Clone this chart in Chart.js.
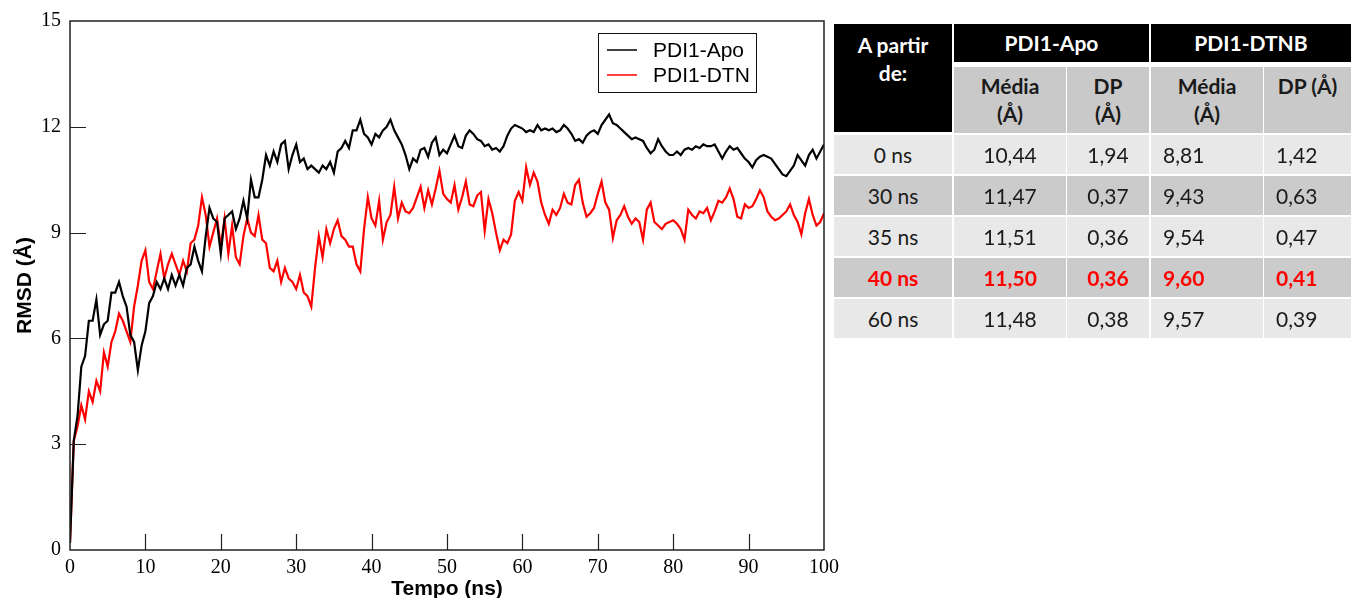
<!DOCTYPE html>
<html lang="pt">
<head>
    <meta charset="UTF-8">
    <title>RMSD PDI1</title>
    <script src="https://cdn.jsdelivr.net/npm/chart.js"></script>
    <style>
        body {
            margin: 0;
            padding: 0;
            background: white;
            width: 1351px;
            height: 598px;
            overflow: hidden;
            position: relative;
        }
        #chartBox {
            position: absolute;
            left: 0;
            top: 0;
            width: 845px;
            height: 598px;
        }
        .cell {
            position: absolute;
            box-sizing: border-box;
            display: flex;
            align-items: center;
            justify-content: center;
            font-family: Lato, "Open Sans", sans-serif;
            font-size: 21px;
            color: #1a1a1a;
            line-height: 28px;
            text-align: center;
        }
        .head { background: #000; color: #fff; font-weight: bold; }
        .corner { align-items: flex-start; padding-top: 7px; }
        .sub { background: #c9c9c9; font-weight: bold; align-items: flex-start; padding-top: 5px; }
        .light { background: #e8e8e8; }
        .dark { background: #cbcbcb; }
        .left { justify-content: flex-start; padding-left: 12px; }
        .hl { color: #ff0000; font-weight: bold; }
    </style>
</head>
<body>

<div id="chartBox"><canvas id="rmsdChart"></canvas></div>
<div id="table"></div>

<script>
    // tempo em ns (amostrado a cada 0,5 ns a partir da figura)
    const timeNs = [
        0, 0.5, 1, 1.5, 2, 2.5, 3, 3.5, 4, 4.5,
        5, 5.5, 6, 6.5, 7, 7.5, 8, 8.5, 9, 9.5,
        10, 10.5, 11, 11.5, 12, 12.5, 13, 13.5, 14, 14.5,
        15, 15.5, 16, 16.5, 17, 17.5, 18, 18.5, 19, 19.5,
        20, 20.5, 21, 21.5, 22, 22.5, 23, 23.5, 24, 24.5,
        25, 25.5, 26, 26.5, 27, 27.5, 28, 28.5, 29, 29.5,
        30, 30.5, 31, 31.5, 32, 32.5, 33, 33.5, 34, 34.5,
        35, 35.5, 36, 36.5, 37, 37.5, 38, 38.5, 39, 39.5,
        40, 40.5, 41, 41.5, 42, 42.5, 43, 43.5, 44, 44.5,
        45, 45.5, 46, 46.5, 47, 47.5, 48, 48.5, 49, 49.5,
        50, 50.5, 51, 51.5, 52, 52.5, 53, 53.5, 54, 54.5,
        55, 55.5, 56, 56.5, 57, 57.5, 58, 58.5, 59, 59.5,
        60, 60.5, 61, 61.5, 62, 62.5, 63, 63.5, 64, 64.5,
        65, 65.5, 66, 66.5, 67, 67.5, 68, 68.5, 69, 69.5,
        70, 70.5, 71, 71.5, 72, 72.5, 73, 73.5, 74, 74.5,
        75, 75.5, 76, 76.5, 77, 77.5, 78, 78.5, 79, 79.5,
        80, 80.5, 81, 81.5, 82, 82.5, 83, 83.5, 84, 84.5,
        85, 85.5, 86, 86.5, 87, 87.5, 88, 88.5, 89, 89.5,
        90, 90.5, 91, 91.5, 92, 92.5, 93, 93.5, 94, 94.5,
        95, 95.5, 96, 96.5, 97, 97.5, 98, 98.5, 99, 99.5,
        100
    ];

    const apoRmsd = [
        0.2, 3.1, 3.8, 5.2, 5.5, 6.5, 6.5, 7.1, 6.1, 6.4,
        6.5, 7.3, 7.3, 7.6, 7.2, 6.9, 6.1, 5.9, 5.1, 5.8,
        6.2, 7.0, 7.2, 7.6, 7.4, 7.7, 7.4, 7.8, 7.5, 7.8,
        7.5, 8.0, 8.1, 8.6, 8.2, 7.9, 8.9, 9.7, 9.4, 9.3,
        8.4, 9.4, 9.5, 9.6, 9.1, 9.4, 9.9, 9.4, 10.5, 10.0,
        10.0, 10.5, 11.2, 10.9, 11.3, 11.0, 11.5, 11.6, 10.8, 11.2,
        11.5, 11.0, 11.1, 10.8, 10.9, 10.8, 10.7, 10.9, 10.8, 11.0,
        10.7, 11.3, 11.4, 11.6, 11.4, 11.9, 11.9, 12.2, 11.8, 11.7,
        11.5, 11.8, 11.7, 11.9, 12.0, 12.2, 11.9, 11.7, 11.5, 11.2,
        10.8, 11.1, 11.0, 11.35, 11.4, 11.15, 11.55, 11.7, 11.2, 11.35,
        11.25, 11.5, 11.75, 11.45, 11.4, 11.75, 11.9, 11.8, 11.65, 11.6,
        11.45, 11.5, 11.35, 11.4, 11.3, 11.45, 11.75, 11.95, 12.05, 12.0,
        11.95, 11.85, 11.9, 11.85, 12.05, 11.9, 11.95, 11.9, 11.95, 11.85,
        11.9, 12.05, 11.95, 11.8, 11.6, 11.65, 11.55, 11.75, 11.85, 11.9,
        11.8, 12.05, 12.2, 12.35, 12.1, 12.05, 11.95, 11.85, 11.75, 11.65,
        11.7, 11.65, 11.6, 11.4, 11.25, 11.35, 11.65, 11.45, 11.3, 11.2,
        11.2, 11.3, 11.2, 11.35, 11.4, 11.35, 11.45, 11.4, 11.5, 11.45,
        11.45, 11.5, 11.3, 11.1, 11.3, 11.45, 11.35, 11.4, 11.25, 11.1,
        11.0, 10.85, 11.05, 11.15, 11.2, 11.15, 11.1, 10.95, 10.8, 10.65,
        10.6, 10.75, 10.9, 11.2, 11.05, 10.9, 11.2, 11.35, 11.1, 11.3,
        11.5
    ];

    const dtnRmsd = [
        0.2, 3.1, 3.5, 4.1, 3.7, 4.5, 4.2, 4.8, 4.5, 5.6,
        5.2, 5.9, 6.2, 6.7, 6.5, 6.2, 5.9, 6.9, 7.5, 8.2,
        8.5, 7.6, 7.4, 7.9, 8.4, 7.7, 8.1, 8.4, 8.1, 7.8,
        8.2, 7.9, 8.7, 8.8, 9.2, 10.0, 9.5, 8.6, 9.0, 9.4,
        8.6, 9.4, 8.4, 9.2, 8.3, 8.1, 8.9, 9.4, 9.0, 8.9,
        9.5, 8.8, 8.7, 8.0, 7.9, 8.2, 7.6, 8.0, 7.7, 7.6,
        7.4, 7.8, 7.3, 7.2, 6.9, 8.0, 8.9, 8.3, 9.1, 8.7,
        9.1, 9.35, 8.9, 8.8, 8.6, 8.6, 8.1, 7.9, 9.1, 10.0,
        9.4, 9.2, 9.9, 8.8, 9.3, 9.5, 10.3, 9.4, 9.85, 9.6,
        9.55, 9.7, 10.0, 10.3, 9.7, 10.2, 9.8, 10.25, 10.75, 10.1,
        9.95, 9.85, 10.35, 9.65, 10.0, 10.45, 9.8, 9.75, 10.05, 10.15,
        9.05, 9.95, 9.55, 9.0, 8.5, 8.8, 8.7, 8.95, 9.9, 10.15,
        9.9, 10.85, 10.35, 10.7, 10.45, 9.85, 9.5, 9.25, 9.65, 9.5,
        9.7, 10.1, 9.85, 9.8, 10.35, 10.5, 9.85, 9.45, 9.55, 9.7,
        10.1, 10.45, 9.85, 9.65, 8.85, 9.35, 9.5, 9.75, 9.45, 9.25,
        9.4, 9.3, 8.8, 9.65, 9.85, 9.3, 9.2, 9.1, 9.25, 9.3,
        9.35, 9.25, 9.1, 8.8, 9.65, 9.5, 9.4, 9.6, 9.55, 9.7,
        9.35, 9.6, 9.9, 9.85, 10.0, 10.25, 9.95, 9.45, 9.4, 9.8,
        9.7, 9.75, 9.95, 10.2, 10.0, 9.6, 9.45, 9.35, 9.4, 9.5,
        9.6, 9.8, 9.5, 9.3, 8.95, 9.55, 9.95, 9.5, 9.2, 9.3,
        9.55
    ];

    // tabela
    const fromLabels = ['0 ns', '30 ns', '35 ns', '40 ns', '60 ns'];
    const apoMean = ['10,44', '11,47', '11,51', '11,50', '11,48'];
    const apoSd = ['1,94', '0,37', '0,36', '0,36', '0,38'];
    const dtnbMean = ['8,81', '9,43', '9,54', '9,60', '9,57'];
    const dtnbSd = ['1,42', '0,63', '0,47', '0,41', '0,39'];
    const highlightRow = 3;

    document.addEventListener('DOMContentLoaded', function () {
        buildTable();
        createRmsdChart();
    });

    function addCell(html, cls, x, y, w, h) {
        const el = document.createElement('div');
        el.className = 'cell ' + cls;
        el.style.left = x + 'px';
        el.style.top = y + 'px';
        el.style.width = w + 'px';
        el.style.height = h + 'px';
        el.innerHTML = html;
        document.getElementById('table').appendChild(el);
    }

    function buildTable() {
        const colX = [834, 954, 1067, 1151, 1264];
        const colW = [118, 112, 82, 112, 87];

        addCell('A partir<br>de:', 'head corner', 834, 24, 118, 108);
        addCell('PDI1-Apo', 'head', 954, 24, 195, 38);
        addCell('PDI1-DTNB', 'head', 1151, 24, 200, 38);

        addCell('Média<br>(Å)', 'sub', colX[1], 67, colW[1], 66);
        addCell('DP<br>(Å)', 'sub', colX[2], 67, colW[2], 66);
        addCell('Média<br>(Å)', 'sub', colX[3], 67, colW[3], 66);
        addCell('DP (Å)', 'sub', colX[4], 67, colW[4], 66);

        for (let i = 0; i < fromLabels.length; i++) {
            const y = 135 + i * 41;
            let cls = i % 2 === 0 ? 'light' : 'dark';
            if (i === highlightRow) cls += ' hl';
            addCell(fromLabels[i], cls, colX[0], y, colW[0], 39);
            addCell(apoMean[i], cls, colX[1], y, colW[1], 39);
            addCell(apoSd[i], cls, colX[2], y, colW[2], 39);
            addCell(dtnbMean[i], cls + ' left', colX[3], y, colW[3], 39);
            addCell(dtnbSd[i], cls + ' left', colX[4], y, colW[4], 39);
        }
    }

    function createRmsdChart() {
        const ctx = document.getElementById('rmsdChart').getContext('2d');

        // ticks para dentro + moldura + legenda
        const framePlugin = {
            id: 'frame',
            afterDraw(chart) {
                const c = chart.ctx;
                const a = chart.chartArea;
                const xs = chart.scales.x;
                const ys = chart.scales.y;
                c.save();
                c.strokeStyle = '#222';
                c.lineWidth = 1.5;
                c.strokeRect(a.left, a.top, a.right - a.left, a.bottom - a.top);

                c.lineWidth = 1.2;
                c.beginPath();
                xs.ticks.forEach(t => {
                    if (t.value <= 0 || t.value >= 100) return;
                    const px = Math.round(xs.getPixelForValue(t.value)) + 0.5;
                    c.moveTo(px, a.bottom);
                    c.lineTo(px, a.bottom - 16);
                });
                ys.ticks.forEach(t => {
                    if (t.value <= 0 || t.value >= 15) return;
                    const py = Math.round(ys.getPixelForValue(t.value)) + 0.5;
                    c.moveTo(a.left, py);
                    c.lineTo(a.left + 16, py);
                });
                c.stroke();

                // legenda
                c.lineWidth = 1;
                c.strokeStyle = '#111';
                c.strokeRect(598.5, 33.5, 158, 59);
                c.font = '21px "Liberation Sans", Arial, sans-serif';
                c.textBaseline = 'middle';
                chart.data.datasets.forEach((ds, i) => {
                    const y = 50 + i * 25;
                    c.strokeStyle = ds.borderColor;
                    c.lineWidth = 1.5;
                    c.beginPath();
                    c.moveTo(607, y);
                    c.lineTo(637, y);
                    c.stroke();
                    c.fillStyle = '#000';
                    c.fillText(ds.label, 653, y + 1);
                });
                c.restore();
            }
        };

        const tickFont = { family: '"Liberation Serif", "Times New Roman", serif', size: 20 };
        const titleFont = { family: '"Liberation Sans", Arial, sans-serif', size: 21, weight: 'bold', lineHeight: 1.0 };

        new Chart(ctx, {
            type: 'line',
            data: {
                labels: timeNs,
                datasets: [
                    {
                        label: 'PDI1-Apo',
                        data: apoRmsd,
                        borderColor: '#000000',
                        borderWidth: 2.2,
                        pointRadius: 0,
                        tension: 0
                    },
                    {
                        label: 'PDI1-DTN',
                        data: dtnRmsd,
                        borderColor: '#ff0000',
                        borderWidth: 2.2,
                        pointRadius: 0,
                        tension: 0
                    }
                ]
            },
            options: {
                responsive: true,
                maintainAspectRatio: false,
                animation: false,
                layout: { padding: { left: 0, top: 20, right: 20, bottom: 0 } },
                scales: {
                    x: {
                        type: 'linear',
                        min: 0,
                        max: 100,
                        grid: { display: false, drawTicks: false },
                        border: { display: false },
                        ticks: { stepSize: 10, font: tickFont, color: '#000', padding: 6, maxRotation: 0 },
                        title: { display: true, text: 'Tempo (ns)', font: titleFont, color: '#000', padding: { top: 0, bottom: -2 } },
                        afterFit(scale) { scale.height = 48; }
                    },
                    y: {
                        min: 0,
                        max: 15,
                        grid: { display: false, drawTicks: false },
                        border: { display: false },
                        ticks: { stepSize: 3, font: tickFont, color: '#000', padding: 9 },
                        title: { display: true, text: 'RMSD (Å)', font: titleFont, color: '#000', padding: { top: 15, bottom: 0 } },
                        afterFit(scale) { scale.width = 70; }
                    }
                },
                plugins: {
                    legend: { display: false },
                    tooltip: { enabled: false }
                }
            },
            plugins: [framePlugin]
        });
    }
</script>

</body>
</html>
